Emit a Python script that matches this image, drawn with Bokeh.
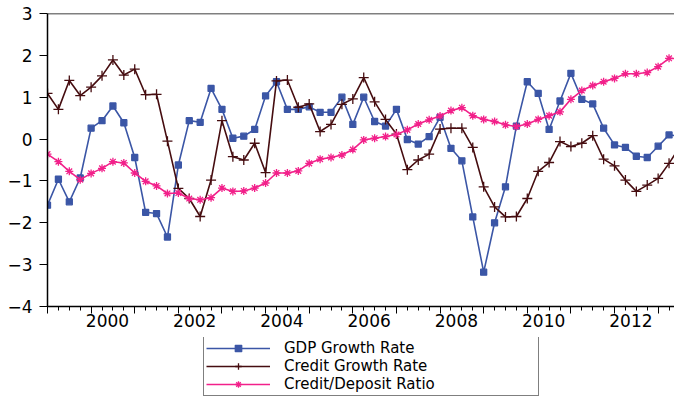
from bokeh.plotting import figure
from bokeh.layouts import column
from bokeh.models import Range1d, FixedTicker, LinearAxis, Legend, LegendItem, Span
from bokeh.embed import file_html
from bokeh.resources import INLINE

# Quarterly observations 1999Q1 .. 2013Q4 (index 0 = 1999Q1)
quarters = [f"{y}Q{q}" for y in range(1999, 2014) for q in range(1, 5)]

gdp_growth = [
    -1.58, -0.96, -1.50, -0.93, 0.26, 0.44, 0.79, 0.39, -0.44, -1.75,
    -1.78, -2.34, -0.62, 0.44, 0.40, 1.21, 0.71, 0.02, 0.07, 0.23,
    1.03, 1.37, 0.71, 0.71, 0.77, 0.64, 0.64, 1.00, 0.35, 1.00,
    0.42, 0.31, 0.71, -0.01, -0.12, 0.06, 0.52, -0.22, -0.52, -1.86,
    -3.18, -2.00, -1.14, 0.31, 1.37, 1.09, 0.23, 0.91, 1.57, 0.95,
    0.84, 0.26, -0.14, -0.20, -0.41, -0.44, -0.17, 0.10, 0.07, 0.05,
]
credit_growth = [
    1.09, 0.71, 1.40, 1.04, 1.24, 1.51, 1.89, 1.53, 1.67, 1.06,
    1.07, -0.05, -1.18, -1.42, -1.85, -0.98, 0.44, -0.42, -0.50, -0.10,
    -0.80, 1.39, 1.41, 0.76, 0.84, 0.18, 0.35, 0.83, 0.96, 1.47,
    0.89, 0.47, 0.12, -0.73, -0.50, -0.36, 0.24, 0.26, 0.26, -0.20,
    -1.14, -1.62, -1.86, -1.85, -1.42, -0.77, -0.56, -0.06, -0.18, -0.10,
    0.08, -0.48, -0.64, -0.98, -1.25, -1.10, -0.94, -0.58, -0.18, -0.15,
]
credit_deposit_ratio = [
    -0.36, -0.54, -0.77, -0.97, -0.82, -0.70, -0.54, -0.57, -0.81, -1.01,
    -1.12, -1.30, -1.29, -1.42, -1.45, -1.40, -1.17, -1.25, -1.24, -1.17,
    -1.05, -0.81, -0.81, -0.76, -0.58, -0.48, -0.44, -0.38, -0.25, -0.02,
    0.02, 0.06, 0.11, 0.22, 0.36, 0.46, 0.55, 0.68, 0.75, 0.56,
    0.47, 0.42, 0.34, 0.30, 0.36, 0.47, 0.56, 0.65, 0.95, 1.16,
    1.28, 1.37, 1.45, 1.56, 1.56, 1.59, 1.73, 1.93, 1.92, 1.92,
]
year_labels = ["2000", "2002", "2004", "2006", "2008", "2010", "2012"]
series_names = ["GDP Growth Rate", "Credit Growth Rate", "Credit/Deposit Ratio"]

xs = list(range(len(quarters)))
year_starts = [i for i, q in enumerate(quarters) if q.endswith("Q1")]
label_pos = [quarters.index(y + "Q1") + 1.5 for y in year_labels]
series = [gdp_growth, credit_growth, credit_deposit_ratio]

FONT = "DejaVu Sans"
BLUE, BROWN, PINK = "#3b56a6", "#460d10", "#f2208a"
STYLES = [
    dict(color=BLUE, marker="square", size=6),
    dict(color=BROWN, marker="cross", size=10),
    dict(color=PINK, marker="asterisk", size=8),
]

p = figure(width=674, height=337, output_backend="svg", toolbar_location=None,
           x_range=Range1d(0, 57.5), y_range=Range1d(-4, 3),
           min_border_left=47, min_border_right=0, min_border_top=13,
           min_border_bottom=31)
p.xgrid.visible = False
p.ygrid.visible = False
p.outline_line_color = None

# y axis
p.yaxis.ticker = FixedTicker(ticks=list(range(-4, 4)))
p.yaxis.major_tick_out = 8
p.yaxis.major_tick_in = 0
p.yaxis.minor_tick_out = 0
p.yaxis.minor_tick_in = 0
p.yaxis.axis_line_width = 1.5
p.yaxis.major_tick_line_width = 1.2
p.yaxis.major_label_standoff = 7
p.yaxis.major_label_text_font = FONT
p.yaxis.major_label_text_font_size = "17px"
p.yaxis.major_label_text_color = "black"

# x axis: ticks only
p.xaxis.ticker = FixedTicker(ticks=year_starts, minor_ticks=xs)
p.xaxis.major_tick_out = 7
p.xaxis.major_tick_in = 0
p.xaxis.minor_tick_out = 4
p.xaxis.minor_tick_in = 0
p.xaxis.axis_line_width = 1.5
p.xaxis.major_label_text_font_size = "0px"
p.xaxis.major_label_standoff = 0

# x axis: year labels centred on each year
lab_axis = LinearAxis(ticker=FixedTicker(ticks=label_pos),
                      major_label_overrides={pos: lab for pos, lab in zip(label_pos, year_labels)})
lab_axis.axis_line_color = None
lab_axis.major_tick_out = 0
lab_axis.major_tick_in = 0
lab_axis.minor_tick_out = 0
lab_axis.major_label_standoff = 0
lab_axis.major_label_text_font = FONT
lab_axis.major_label_text_font_size = "17px"
lab_axis.major_label_text_color = "black"
p.add_layout(lab_axis, "below")

p.add_layout(Span(location=3, dimension="width", line_color="black", line_width=1.5))

for ys, st in zip(series, STYLES):
    p.line(xs, ys, color=st["color"], line_width=1.6)
    p.scatter(xs, ys, marker=st["marker"], size=st["size"], color=st["color"], line_width=1.3)

# legend strip below the chart (its key glyphs use the same series, out of view)
q = figure(width=674, height=60, output_backend="svg", toolbar_location=None,
           x_axis_type=None, y_axis_type=None, min_border=0,
           x_range=Range1d(0, 1), y_range=Range1d(10, 11))
q.outline_line_color = None
items = []
for name, ys, st in zip(series_names, series, STYLES):
    lr = q.line(xs, ys, color=st["color"], line_width=1.6)
    mr = q.scatter(xs, ys, marker=st["marker"], size=st["size"], color=st["color"], line_width=1.3)
    items.append(LegendItem(label=name, renderers=[lr, mr]))

legend = Legend(items=items, location=(156, 1), orientation="vertical")
legend.border_line_color = "black"
legend.border_line_width = 1
legend.background_fill_color = "white"
legend.padding = 2
legend.spacing = 0
legend.margin = 0
legend.glyph_width = 64
legend.glyph_height = 16
legend.label_height = 16
legend.label_standoff = 14
legend.label_width = 252
legend.label_text_font = FONT
legend.label_text_font_size = "15px"
legend.label_text_color = "black"
q.add_layout(legend, "center")

layout = column(p, q, spacing=0)
open("out.html", "w").write(file_html(layout, INLINE))
